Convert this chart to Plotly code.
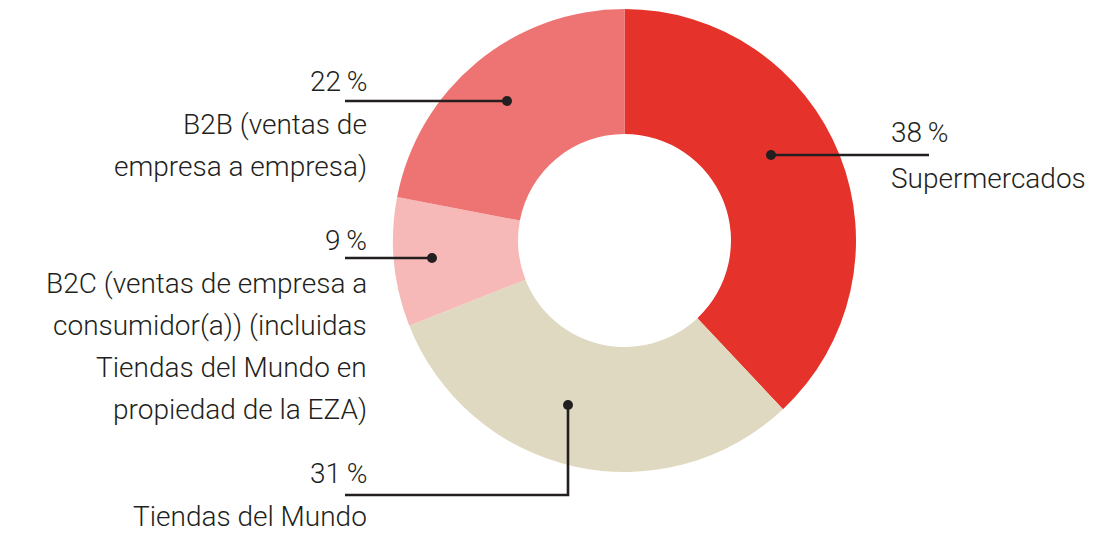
import plotly.graph_objects as go

# ---- data ----
categories = ["Supermercados", "Tiendas del Mundo",
              "B2C (ventas de empresa a consumidor(a)) (incluidas Tiendas del Mundo en propiedad de la EZA)",
              "B2B (ventas de empresa a empresa)"]
values = [38, 31, 9, 22]
colors = ["#E5322A", "#E0D9C1", "#F6B9B7", "#EE7473"]

# label text lines as shown on the chart
label_lines = [
    ["Supermercados"],
    ["Tiendas del Mundo"],
    ["B2C (ventas de empresa a", "consumidor(a)) (incluidas", "Tiendas del Mundo en", "propiedad de la EZA)"],
    ["B2B (ventas de", "empresa a empresa)"],
]

# ---- layout (pixels) ----
W, H = 1097, 533
CX, CY, R = 624.5, 240.5, 231.5
HOLE = 0.46
FONT = "Roboto"
FS = 28
TXT = "#231F20"

def px(x):
    return x / W

def py(y):
    return 1 - y / H

# per-label callout geometry: dot, elbow path, text anchor
callouts = [
    dict(dot=(771, 155), path=[(771, 155), (929, 155)], tx=889, anchor="left", pct_y=133, y0=178, dy=42),
    dict(dot=(568, 405), path=[(568, 405), (568, 495), (345, 495)], tx=369, anchor="right", pct_y=473, y0=516, dy=42),
    dict(dot=(432, 258), path=[(432, 258), (345, 258)], tx=369, anchor="right", pct_y=240, y0=283, dy=42.3),
    dict(dot=(507, 101), path=[(507, 101), (345, 101)], tx=369, anchor="right", pct_y=81, y0=125, dy=41),
]

fig = go.Figure(go.Pie(
    labels=categories, values=values, sort=False, direction="clockwise", rotation=0,
    hole=HOLE, marker=dict(colors=colors, line=dict(width=0)),
    textinfo="none", hoverinfo="label+percent", showlegend=False,
    domain=dict(x=[px(CX - R), px(CX + R)], y=[py(CY + R), py(CY - R)]),
))

shapes = []
annotations = []
for v, lines, c in zip(values, label_lines, callouts):
    pts = c["path"]
    path = "M " + " L ".join(f"{px(x)},{py(y)}" for x, y in pts)
    shapes.append(dict(type="path", xref="paper", yref="paper", path=path,
                       line=dict(color=TXT, width=2.6)))
    dx, dy = c["dot"]
    shapes.append(dict(type="circle", xref="paper", yref="paper",
                       xsizemode="pixel", ysizemode="pixel",
                       xanchor=px(dx), yanchor=py(dy),
                       x0=-5, x1=5, y0=-5, y1=5,
                       fillcolor=TXT, line=dict(width=0)))
    annotations.append(dict(x=px(c["tx"]), y=py(c["pct_y"]), xref="paper", yref="paper",
                            text=f"{v}\u2009%", showarrow=False, xanchor=c["anchor"], yanchor="middle",
                            font=dict(family=FONT, size=FS, color=TXT, weight=300)))
    for i, ln in enumerate(lines):
        annotations.append(dict(x=px(c["tx"]), y=py(c["y0"] + i * c["dy"]), xref="paper", yref="paper",
                                text=ln, showarrow=False, xanchor=c["anchor"], yanchor="middle",
                                font=dict(family=FONT, size=FS, color=TXT, weight=300)))

fig.update_layout(width=W, height=H, margin=dict(l=0, r=0, t=0, b=0),
                  paper_bgcolor="white", plot_bgcolor="white",
                  shapes=shapes, annotations=annotations)

fig.write_html("out.html", config={"displayModeBar": False},
               post_script="document.body.style.margin='0';document.body.style.overflow='hidden';")
